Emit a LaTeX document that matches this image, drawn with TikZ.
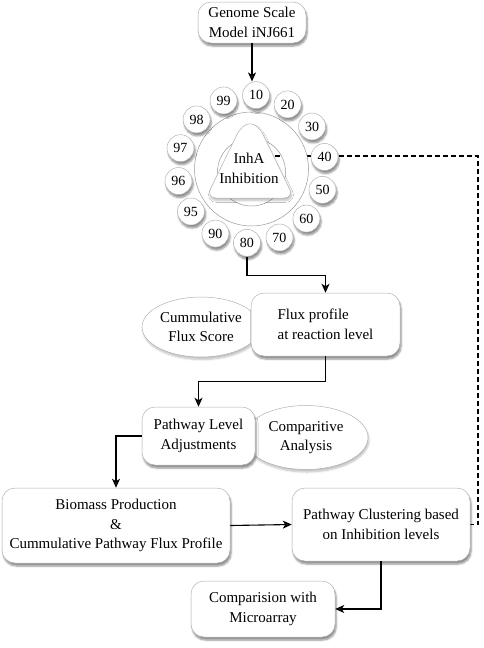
\documentclass[tikz,border=0pt]{standalone}
\usepackage{fontspec}
\setmainfont{Liberation Serif}
\usetikzlibrary{shapes.geometric,shadows.blur,arrows.meta,calc}
\pgfdeclarelayer{bg}
\pgfsetlayers{bg,main}
\tikzset{
  txt/.style={font=\fontsize{15}{19.5}\selectfont},
  shd/.style={blur shadow={shadow xshift=1.2pt, shadow yshift=-3pt, shadow blur steps=6, shadow opacity=45}},
  lshd/.style={blur shadow={shadow xshift=1pt, shadow yshift=-2.5pt, shadow blur steps=6, shadow opacity=25}},
  box/.style={txt, draw=black!30, fill=white, line width=0.5pt, rounded corners=13pt, align=center, inner sep=2pt, shd},
  oval/.style={txt, ellipse, draw=black!30, fill=white, line width=0.5pt, align=center, inner sep=0pt, lshd},
  num/.style={font=\fontsize{14}{16}\selectfont, circle, draw=black!30, fill=white, line width=0.5pt, minimum size=27pt, inner sep=0pt, shd},
  arr/.style={line width=1.1pt, -{Stealth[length=9pt,width=8pt,inset=2.5pt]}},
  dashline/.style={line width=1.6pt, dash pattern=on 5pt off 3pt},
}
\begin{document}
\begin{tikzpicture}[x=1pt,y=-1pt]
\useasboundingbox (0,0) rectangle (484,648);

% top model box
\node[box, minimum width=108pt, minimum height=41pt] (gen) at (252,22.5) {Genome Scale\\Model iNJ661};

% inhibition ring
\coordinate (ctr) at (251.5,169);
\coordinate (trE) at (274.5,156);
\coordinate (dc) at (478,156);
\draw[draw=black!40, fill=white, line width=0.5pt, even odd rule] (ctr) circle (57) (251.5,172) circle (34);
\draw[draw=black!30, fill=white, line width=0.5pt, lshd]
  (250,198) -- (284,198) .. controls (289.5,198) and (292.0,194.0) .. (289.6,189.0)
  -- (263.2,134.9) .. controls (255.9,120.1) and (244.1,120.1) .. (236.8,134.9)
  -- (210.4,189.0) .. controls (208.0,194.0) and (210.5,198) .. (216,198) -- cycle;
\node[txt, align=center] (inh) at (249,168.5) {InhA\\Inhibition};
\foreach \lab [count=\i from 0] in {10,20,30,40,50,60,70,80,90,95,96,97,98,99} {
  \node[num] (c\lab) at ($(ctr)+({86.5-25.714*\i}:74pt)$) {\lab};
}

% flux level
\node[oval, minimum width=118pt, minimum height=60pt] (cfs) at (201,327) {Cummulative\\Flux Score};
\node[box, minimum width=149pt, minimum height=63pt, align=left] (flux) at (325.5,324.5) {Flux profile\\at reaction level};

% pathway level
\node[oval, minimum width=124pt, minimum height=64pt] (cmp) at (306,437.5) {Comparitive\\Analysis};
\node[box, minimum width=113pt, minimum height=58pt] (pla) at (198.5,436) {Pathway Level\\Adjustments};

% lower boxes
\node[box, minimum width=228pt, minimum height=75pt] (bio) at (116,525.5) {Biomass Production\\\&\\Cummulative Pathway Flux Profile};
\node[box, minimum width=178pt, minimum height=73pt] (clu) at (381,524.5) {Pathway Clustering based\\on Inhibition levels};
\node[box, minimum width=144pt, minimum height=56pt] (mic) at (263,609) {Comparision with\\Microarray};

% connectors
\begin{pgfonlayer}{bg}
\draw[dashline] (trE) -- (dc) |- (clu.east);
\end{pgfonlayer}
\draw[arr] (gen.south) -- (gen.south |- c10.north);
\draw[arr] (c80.south) |- ([yshift=17pt]flux.north) -- (flux.north);
\draw[arr] (flux.south) -- ++(0,25) -| (pla.north);
\draw[arr] (pla.west) -| (bio.north);
\draw[arr] (bio.east) -- (clu.west);
\draw[arr] (clu.south) |- (mic.east);
\end{tikzpicture}
\end{document}
